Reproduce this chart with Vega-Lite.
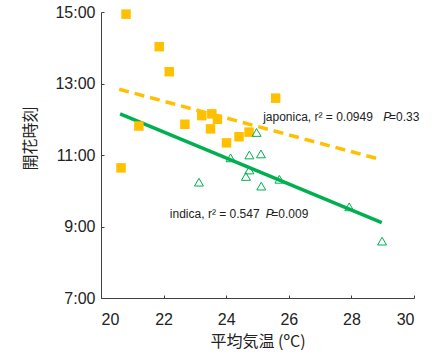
{
  "$schema": "https://vega.github.io/schema/vega-lite/v6.json",
  "width": 313,
  "height": 286,
  "autosize": {"type": "none"},
  "padding": {"left": 101, "top": 12, "right": 20, "bottom": 54},
  "background": "white",
  "config": {"view": {"stroke": null}, "font": "Liberation Sans"},
  "datasets": {
    "japonica": [
      {"x": 20.8, "y": 14.94}, {"x": 21.86, "y": 14.03}, {"x": 22.18, "y": 13.33},
      {"x": 25.58, "y": 12.59}, {"x": 21.21, "y": 11.81}, {"x": 22.68, "y": 11.86},
      {"x": 23.22, "y": 12.1}, {"x": 23.54, "y": 12.15}, {"x": 23.72, "y": 12.0},
      {"x": 23.5, "y": 11.73}, {"x": 24.01, "y": 11.34}, {"x": 24.41, "y": 11.51},
      {"x": 24.73, "y": 11.64}, {"x": 20.64, "y": 10.64}
    ],
    "indica": [
      {"x": 24.97, "y": 11.63}, {"x": 24.14, "y": 10.92}, {"x": 24.74, "y": 11.0},
      {"x": 25.11, "y": 11.03}, {"x": 23.13, "y": 10.24}, {"x": 24.74, "y": 10.58},
      {"x": 24.63, "y": 10.4}, {"x": 25.12, "y": 10.13}, {"x": 25.7, "y": 10.32},
      {"x": 27.93, "y": 9.55}, {"x": 28.98, "y": 8.59}
    ],
    "lines": [
      {"group": "japonica", "x": 20.58, "y": 12.84},
      {"group": "japonica", "x": 28.86, "y": 10.89},
      {"group": "indica", "x": 20.61, "y": 12.15},
      {"group": "indica", "x": 28.97, "y": 9.11}
    ],
    "notes": [
      {"part": "normal", "t": "japonica, r² = 0.0949", "x": 25.18, "y": 12.07},
      {"part": "italic", "t": "P", "x": 29.02, "y": 12.07},
      {"part": "normal", "t": "=0.33", "x": 29.2, "y": 12.07},
      {"part": "normal", "t": "indica, r² = 0.547", "x": 22.2, "y": 9.35},
      {"part": "italic", "t": "P", "x": 25.26, "y": 9.35},
      {"part": "normal", "t": "=0.009", "x": 25.44, "y": 9.35}
    ]
  },
  "encoding": {
    "x": {
      "field": "x", "type": "quantitative",
      "scale": {"domain": [20, 30], "nice": false, "zero": false},
      "axis": {
        "title": "平均気温 (ºC)", "values": [20, 22, 24, 26, 28, 30],
        "grid": false, "domainColor": "#404040", "tickColor": "#404040",
        "tickSize": -3, "labelPadding": 16, "labelFontSize": 16, "labelColor": "#222",
        "labelFont": "Liberation Sans", "titleFont": "Noto Sans CJK JP", "titleFontSize": 16,
        "titleFontWeight": "normal", "titleColor": "#222", "titlePadding": 6
      }
    },
    "y": {
      "field": "y", "type": "quantitative",
      "scale": {"domain": [7, 15], "nice": false, "zero": false},
      "axis": {
        "title": "開花時刻", "values": [7, 9, 11, 13, 15],
        "labelExpr": "datum.value + ':00'",
        "grid": false, "domainColor": "#404040", "tickColor": "#404040",
        "tickSize": -3, "labelPadding": 9, "labelFontSize": 16, "labelColor": "#222",
        "labelFont": "Liberation Sans", "titleFont": "Noto Sans CJK JP", "titleFontSize": 16,
        "titleFontWeight": "normal", "titleColor": "#222", "titlePadding": 16, "titleY": 126
      }
    }
  },
  "layer": [
    {
      "data": {"name": "lines"},
      "transform": [{"filter": "datum.group == 'japonica'"}],
      "mark": {"type": "line", "color": "#FFC000", "strokeWidth": 3.5, "strokeDash": [10, 6]}
    },
    {
      "data": {"name": "lines"},
      "transform": [{"filter": "datum.group == 'indica'"}],
      "mark": {"type": "line", "color": "#00B050", "strokeWidth": 3.5}
    },
    {
      "data": {"name": "japonica"},
      "mark": {"type": "point", "shape": "square", "filled": true, "color": "#FFC000", "opacity": 1, "size": 90}
    },
    {
      "data": {"name": "indica"},
      "mark": {"type": "point", "shape": "triangle-up", "filled": false, "color": "#00B050", "strokeWidth": 1, "opacity": 1, "size": 80}
    },
    {
      "data": {"name": "notes"},
      "transform": [{"filter": "datum.part == 'normal'"}],
      "mark": {"type": "text", "align": "left", "baseline": "middle", "fontSize": 12, "color": "#222", "font": "Liberation Sans"},
      "encoding": {"text": {"field": "t"}}
    },
    {
      "data": {"name": "notes"},
      "transform": [{"filter": "datum.part == 'italic'"}],
      "mark": {"type": "text", "align": "left", "baseline": "middle", "fontSize": 12, "fontStyle": "italic", "color": "#222", "font": "Liberation Sans"},
      "encoding": {"text": {"field": "t"}}
    }
  ]
}
